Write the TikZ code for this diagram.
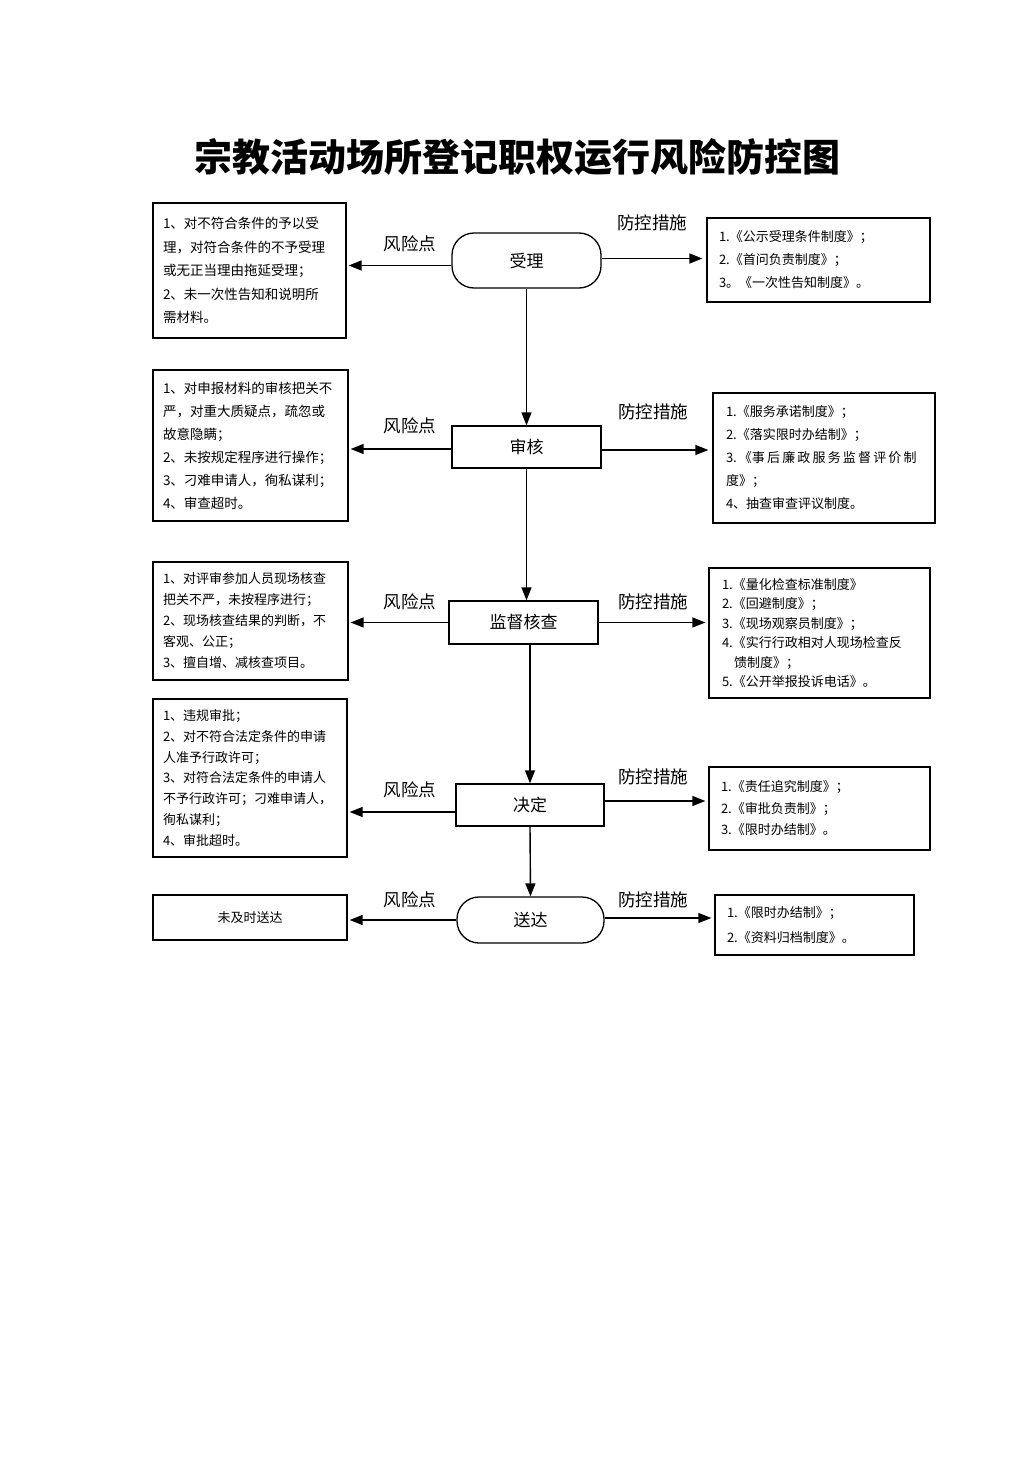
\documentclass[tikz,border=0pt]{standalone}
\usepackage{fontspec}
\newfontfamily\cjk{Noto Sans CJK SC}
\usetikzlibrary{arrows.meta}
\begin{document}
\begin{tikzpicture}[x=1pt,y=-1pt,
  box/.style={draw,line width=1.3pt,align=left,inner xsep=10pt,inner ysep=0pt,font=\cjk\fontsize{13}{21}\selectfont},
  rbox/.style={draw,line width=1.3pt,align=left,inner xsep=12pt,inner ysep=0pt,font=\cjk\fontsize{13}{21}\selectfont},
  stepnode/.style={draw,line width=1.3pt,inner sep=0pt,font=\cjk\fontsize{17}{20}\selectfont},
  termnode/.style={draw,line width=1.3pt,inner sep=0pt,rounded corners=22pt,font=\cjk\fontsize{17}{20}\selectfont},
  lbl/.style={font=\cjk\fontsize{17.5}{20}\selectfont,inner sep=0pt},
  arr/.style={line width=1.4pt,-{Triangle[length=13pt,width=10pt]}},
  vline/.style={line width=1.4pt,-{Triangle[length=13pt,width=10pt]}}]
\useasboundingbox (0,0) rectangle (1033,1461);
\fill[white] (0,0) rectangle (1033,1461);

\node[font=\cjk\bfseries\fontsize{38}{40}\selectfont,inner sep=0pt] (title) at (517,157) {宗教活动场所登记职权运行风险防控图};

% step nodes
\node[termnode,minimum width=149pt,minimum height=55pt] (T1) at (526.5,260.5) {受理};
\node[stepnode,minimum width=149pt,minimum height=42pt] (N2) at (526.5,447) {审核};
\node[stepnode,minimum width=149pt,minimum height=43pt] (N3) at (523.5,622.5) {监督核查};
\node[stepnode,minimum width=148pt,minimum height=42pt] (N4) at (530,805) {决定};
\node[termnode,minimum width=147pt,minimum height=46pt] (N5) at (530.5,920) {送达};

% left boxes
\node[box,text width=173pt,minimum height=135pt,font=\cjk\fontsize{13.5}{23.5}\selectfont] (L1) at (249.5,270.5) {1、对不符合条件的予以受\\理，对符合条件的不予受理\\或无正当理由拖延受理；\\2、未一次性告知和说明所\\需材料。};
\node[box,text width=175pt,minimum height=151pt,font=\cjk\fontsize{13.5}{23}\selectfont] (L2) at (250.5,445.5) {1、对申报材料的审核把关不\\严，对重大质疑点，疏忽或\\故意隐瞒；\\2、未按规定程序进行操作；\\3、刁难申请人，徇私谋利；\\4、审查超时。};
\node[box,text width=175pt,minimum height=118pt] (L3) at (250.5,621) {1、对评审参加人员现场核查\\把关不严，未按程序进行；\\2、现场核查结果的判断，不\\客观、公正；\\3、擅自增、减核查项目。};
\node[box,text width=174pt,minimum height=158pt,font=\cjk\fontsize{13}{20.8}\selectfont] (L4) at (250,778) {1、违规审批；\\2、对不符合法定条件的申请\\人准予行政许可；\\3、对符合法定条件的申请人\\不予行政许可；刁难申请人，\\徇私谋利；\\4、审批超时。};
\node[box,align=center,minimum width=194pt,minimum height=45pt] (L5) at (250,917.5) {未及时送达};

% right boxes
\node[rbox,text width=199pt,minimum height=84pt,font=\cjk\fontsize{13}{23}\selectfont] (R1) at (818.5,260) {1.《公示受理条件制度》；\\2.《首问负责制度》；\\3。《一次性告知制度》。};
\node[rbox,text width=196pt,minimum height=130pt,inner xsep=13pt,font=\cjk\fontsize{13}{23}\selectfont] (R2) at (824,458) {1.《服务承诺制度》；\\2.《落实限时办结制》；\\3.\,《事\,后\,廉\,政\,服\,务\,监\,督\,评\,价\,制\\度》；\\4、抽查审查评议制度。};
\node[rbox,text width=195pt,minimum height=130pt,inner xsep=13pt,font=\cjk\fontsize{13}{19.5}\selectfont] (R3) at (819.5,633) {1.《量化检查标准制度》\\2.《回避制度》；\\3.《现场观察员制度》；\\4.《实行行政相对人现场检查反\\\hspace*{12pt}馈制度》；\\5.《公开举报投诉电话》。};
\node[rbox,text width=197pt,minimum height=83pt,font=\cjk\fontsize{13}{21.5}\selectfont] (R4) at (819.5,808.5) {1.《责任追究制度》；\\2.《审批负责制》；\\3.《限时办结制》。};
\node[rbox,text width=175pt,minimum height=60pt,font=\cjk\fontsize{13}{25}\selectfont] (R5) at (814.5,925) {1.《限时办结制》；\\2.《资料归档制度》。};

% labels
\node[lbl] (fx1) at (410,244) {风险点};
\node[lbl] (fx2) at (410,426) {风险点};
\node[lbl] (fx3) at (410,602) {风险点};
\node[lbl] (fx4) at (410,790) {风险点};
\node[lbl] (fx5) at (410,900) {风险点};
\node[lbl] (fk1) at (652,223) {防控措施};
\node[lbl] (fk2) at (653,412) {防控措施};
\node[lbl] (fk3) at (653,602) {防控措施};
\node[lbl] (fk4) at (653,777) {防控措施};
\node[lbl] (fk5) at (653,900) {防控措施};

% vertical flow
\draw[vline] (T1.south) -- (T1.south |- N2.north);
\draw[vline] (N2.south) -- (N2.south |- N3.north);
\draw[vline] (N4.north |- N3.south) -- (N4.north);
\draw[vline] (N4.south) -- (N5.north);

% left arrows
\draw[arr,shorten >=2pt] ([yshift=-5pt]T1.west) -- ([yshift=-5pt]T1.west -| L1.east);
\draw[arr,shorten >=2pt] ([yshift=-2pt]N2.west) -- ([yshift=-2pt]N2.west -| L2.east);
\draw[arr,shorten >=2pt] (N3.west) -- (N3.west -| L3.east);
\draw[arr,shorten >=2pt] ([yshift=-7pt]N4.west) -- ([yshift=-7pt]N4.west -| L4.east);
\draw[arr,shorten >=2pt] (N5.west) -- (N5.west -| L5.east);

% right arrows
\draw[arr,shorten >=4pt] ([yshift=2pt]T1.east) -- ([yshift=2pt]T1.east -| R1.west);
\draw[arr,shorten >=4pt] ([yshift=-3pt]N2.east) -- ([yshift=-3pt]N2.east -| R2.west);
\draw[arr,shorten >=3pt] (N3.east) -- (N3.east -| R3.west);
\draw[arr,shorten >=3pt] ([yshift=4pt]N4.east) -- ([yshift=4pt]N4.east -| R4.west);
\draw[arr,shorten >=3pt] ([yshift=2pt]N5.east) -- ([yshift=2pt]N5.east -| R5.west);
\end{tikzpicture}
\end{document}
